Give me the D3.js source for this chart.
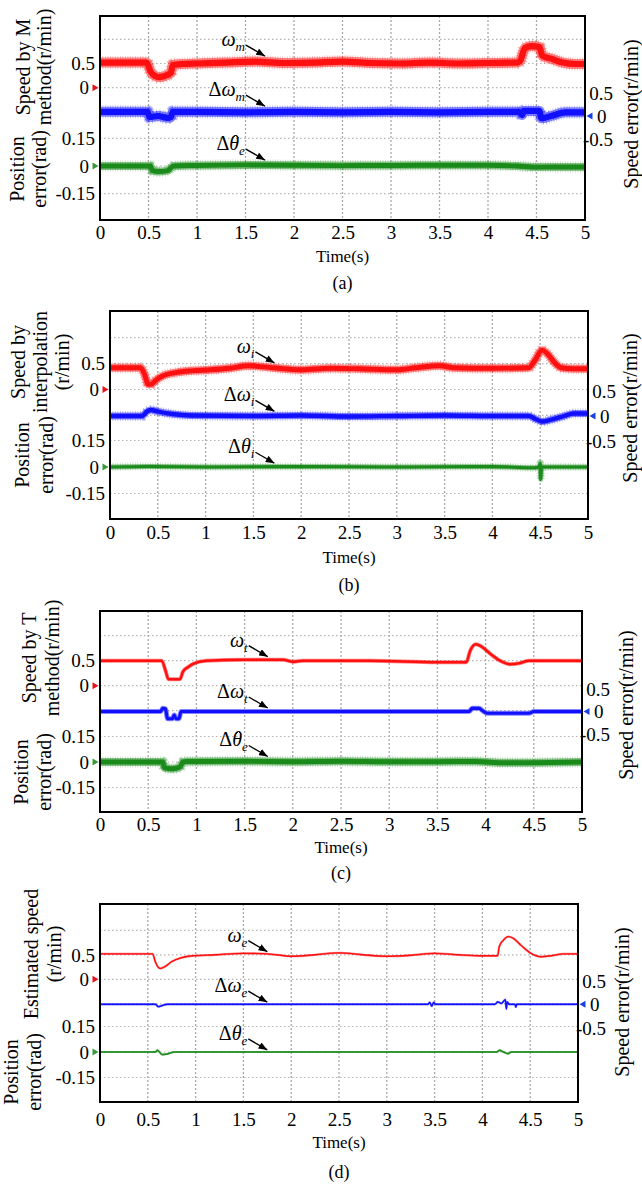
<!DOCTYPE html>
<html>
<head>
<meta charset="utf-8">
<script src="https://cdn.jsdelivr.net/npm/d3@7"></script>
<style>
  body { margin: 0; background: #fff; }
  svg { display: block; font-family: "Liberation Serif", "Times New Roman", serif; }
</style>
</head>
<body>
<svg id="fig" width="642" height="1188"></svg>
<script>
// ---- data: [time(s), value] ----
// (a) M method
var speedA = [[0,0.52],[0.48,0.52],[0.52,0.34],[0.56,0.25],[0.6,0.22],[0.65,0.23],[0.7,0.27],[0.73,0.3],[0.75,0.47],[0.85,0.49],[1.0,0.5],[1.3,0.52],[1.6,0.54],[1.9,0.51],[2.2,0.52],[2.5,0.54],[2.8,0.51],[3.1,0.5],[3.4,0.52],[3.7,0.5],[4.0,0.51],[4.3,0.52],[4.33,0.55],[4.38,0.82],[4.45,0.86],[4.53,0.84],[4.56,0.66],[4.65,0.6],[4.77,0.52],[4.9,0.49],[5,0.49]];
var errA = [[0,0.09],[0.49,0.09],[0.51,-0.02],[0.6,0],[0.7,-0.04],[0.73,-0.03],[0.75,0.09],[1.0,0.09],[1.5,0.08],[2.0,0.09],[2.5,0.08],[3.0,0.09],[3.5,0.08],[4.0,0.09],[4.32,0.09],[4.35,0.02],[4.37,0.11],[4.53,0.11],[4.55,-0.05],[4.65,0],[4.8,0.08],[5,0.08]];
var posA = [[0,0],[0.52,0],[0.54,-0.025],[0.6,-0.03],[0.7,-0.025],[0.73,-0.01],[0.76,0],[1.0,0.003],[1.5,0.006],[2.0,0.004],[2.5,0.002],[3.0,0.003],[3.5,0.004],[4.0,0.004],[4.3,0],[4.5,-0.006],[5,-0.005]];
// (b) interpolation
var speedB = [[0,0.42],[0.32,0.42],[0.36,0.3],[0.4,0.1],[0.43,0.1],[0.48,0.18],[0.55,0.26],[0.7,0.33],[0.85,0.36],[1.05,0.38],[1.25,0.41],[1.45,0.46],[1.7,0.42],[2.0,0.38],[2.3,0.41],[2.6,0.4],[3.0,0.38],[3.2,0.42],[3.45,0.46],[3.6,0.42],[4.0,0.41],[4.38,0.42],[4.44,0.55],[4.52,0.76],[4.58,0.68],[4.65,0.52],[4.72,0.42],[4.85,0.4],[5,0.4]];
var errB = [[0,0],[0.34,0],[0.38,0.08],[0.43,0.12],[0.5,0.09],[0.65,0.04],[0.85,0.01],[1.5,0],[2.0,0.01],[2.5,-0.01],[3.0,0],[3.5,0.01],[4.0,0],[4.38,0],[4.45,-0.06],[4.52,-0.11],[4.6,-0.08],[4.75,0],[4.85,0.05],[5,0.05]];
var posB = [[0,0],[0.4,0.003],[1.0,0],[2.0,0.002],[3.0,0],[4.0,0.002],[4.45,-0.004],[4.49,0],[4.5,0.02],[4.505,-0.07],[4.515,0],[5,0]];
// (c) T method
var speedC = [[0,0.5],[0.64,0.5],[0.68,0.3],[0.71,0.13],[0.83,0.13],[0.86,0.28],[0.92,0.38],[0.97,0.44],[1.1,0.5],[1.5,0.52],[1.9,0.52],[2.0,0.48],[2.1,0.5],[2.8,0.5],[3.5,0.47],[3.8,0.47],[3.84,0.7],[3.9,0.83],[3.96,0.78],[4.06,0.62],[4.15,0.5],[4.25,0.43],[4.35,0.45],[4.45,0.5],[5,0.5]];
var errC = [[0,0],[0.63,0],[0.65,0.07],[0.68,0.06],[0.7,-0.16],[0.75,-0.16],[0.77,-0.08],[0.79,-0.16],[0.82,-0.16],[0.84,0],[3.83,0],[3.86,0.07],[3.93,0.07],[3.98,0],[4.02,-0.04],[4.45,-0.04],[4.5,0],[5,0]];
var posC = [[0,0],[0.65,0],[0.67,-0.035],[0.75,-0.04],[0.83,-0.03],[0.86,0],[0.9,0.003],[1.5,0.004],[2.0,0.002],[2.5,0.005],[3.0,0.002],[3.5,0.002],[3.9,0.003],[4.2,-0.005],[4.5,-0.004],[5,0]];
// (d) estimated
var speedD = [[0,0.52],[0.55,0.52],[0.58,0.35],[0.63,0.22],[0.68,0.26],[0.75,0.36],[0.85,0.44],[0.97,0.48],[1.2,0.5],[1.5,0.53],[1.75,0.52],[2.0,0.47],[2.25,0.5],[2.5,0.54],[2.75,0.5],[3.0,0.47],[3.25,0.49],[3.5,0.53],[3.75,0.5],[4.0,0.48],[4.16,0.48],[4.175,0.66],[4.22,0.8],[4.27,0.87],[4.32,0.84],[4.4,0.7],[4.5,0.54],[4.61,0.46],[4.72,0.48],[4.85,0.52],[5,0.52]];
var errD = [[0,0],[0.58,0],[0.61,-0.05],[0.66,-0.02],[0.7,0],[3.43,0],[3.45,0.04],[3.47,-0.04],[3.49,0.04],[3.51,0],[4.13,0],[4.16,0.05],[4.2,0.02],[4.24,0.1],[4.25,-0.1],[4.26,0.05],[4.28,0],[4.34,0],[4.35,-0.06],[4.36,0],[5,0]];
var posD = [[0,0],[0.58,0],[0.6,0.01],[0.65,-0.015],[0.7,-0.012],[0.78,0],[4.15,0],[4.18,0.01],[4.22,0],[4.27,-0.01],[4.3,0],[5,0]];

var speedSeries = [speedA, speedB, speedC, speedD];
var errSeries = [errA, errB, errC, errD];
var posSeries = [posA, posB, posC, posD];

// ---- ticks and labels ----
var timeTicks = [0, 0.5, 1, 1.5, 2, 2.5, 3, 3.5, 4, 4.5, 5];
var speedTicks = [0.5, 0];
var posTicks = [0.15, 0, -0.15];
var errTicks = [0.5, 0, -0.5];
var speedGrid = [1, 0.5, 0, -0.5];
var posGrid = [0.15, 0, -0.15];

var speedTitles = [['Speed by M', 'method(r/min)'], ['Speed by', 'interpolation', '(r/min)'], ['Speed by T', 'method(r/min)'], ['Estimated speed', '(r/min)']];
var posTitle = ['Position', 'error(rad)'];
var errTitle = 'Speed error(r/min)';
var panelTags = ['(a)', '(b)', '(c)', '(d)'];
var traceSubs = [['m', 'm', 'e'], ['i', 'i', 'i'], ['t', 't', 'e'], ['e', 'e', 'e']];
var thetaHat = [true, false, true, false];

// ---- layout (pixels) ----
var panels = [
  {top:16, bottom:220, left:100, right:585, spd0:87.7, spdStep:24.2, err0:116, errStep:23, pos0:166, posStep:27.7,
   xTickY:239, timeY:262, tagY:289, spdTitleX:[30,51], spdTitleY:67, posTitleX:[24,46], posTitleY:169, errTitleX:638, errTitleY:114, widths:[10,10,8], noisy:[1,1,1], tipT:1.7},
  {top:311, bottom:519, left:110, right:588, spd0:389.5, spdStep:25.9, err0:416, errStep:25, pos0:467, posStep:26.5,
   xTickY:539, timeY:563, tagY:591, spdTitleX:[25,47,69], spdTitleY:362, posTitleX:[29,53], posTitleY:455, errTitleX:637, errTitleY:408, widths:[8,7,5], noisy:[1,1,1], tipT:1.72},
  {top:611, bottom:812, left:100, right:582, spd0:685.7, spdStep:25, err0:711.5, errStep:22.5, pos0:762, posStep:25.5,
   xTickY:831, timeY:853, tagY:879, spdTitleX:[36,59], spdTitleY:658, posTitleX:[28,51], posTitleY:772, errTitleX:633, errTitleY:705, widths:[4,5,8], noisy:[0,0,1], tipT:1.74},
  {top:904, bottom:1102, left:100, right:578, spd0:979.3, spdStep:24.5, err0:1004.3, errStep:23.5, pos0:1052, posStep:25.5,
   xTickY:1126, timeY:1148, tagY:1178, spdTitleX:[38,61], spdTitleY:954, posTitleX:[18,41], posTitleY:1072, errTitleX:629, errTitleY:1002, widths:[2.2,2.2,2.2], noisy:[0,0,0], tipT:1.75}
];

var colors = ['#ff1010', '#1010ff', '#1a8a1a'];
var markColors = ['#e8141a', '#1a40e0', '#3a9a3a'];
var serif = '"Liberation Serif", "Times New Roman", serif';

var svg = d3.select('#fig');

svg.append('defs').append('marker')
  .attr('id', 'head')
  .attr('viewBox', '0 0 10 8')
  .attr('refX', 10).attr('refY', 4)
  .attr('markerWidth', 9).attr('markerHeight', 7)
  .attr('markerUnits', 'userSpaceOnUse')
  .attr('orient', 'auto')
  .append('path').attr('d', 'M0,0L10,4L0,8Z').attr('fill', '#000');

panels.forEach(function(p, i) {
  var g = svg.append('g').attr('class', 'panel');

  var x = d3.scaleLinear().domain([0, 5]).range([p.left, p.right]);
  var ySpd = d3.scaleLinear().domain([0, 0.5]).range([p.spd0, p.spd0 - p.spdStep]);
  var yErr = d3.scaleLinear().domain([0, 0.5]).range([p.err0, p.err0 - p.errStep]);
  var yPos = d3.scaleLinear().domain([0, 0.15]).range([p.pos0, p.pos0 - p.posStep]);

  // dotted oscilloscope grid
  g.selectAll('.vgrid')
    .data(timeTicks.slice(1, -1))
    .enter().append('line')
    .attr('class', 'vgrid')
    .attr('x1', function(d) { return x(d); })
    .attr('x2', function(d) { return x(d); })
    .attr('y1', p.top).attr('y2', p.bottom)
    .attr('stroke', '#a8a8a8').attr('stroke-width', 1.3)
    .attr('stroke-dasharray', '2,2');

  var hLines = speedGrid.map(function(v) { return ySpd(v); })
    .concat(posGrid.map(function(v) { return yPos(v); }));
  g.selectAll('.hgrid')
    .data(hLines)
    .enter().append('line')
    .attr('class', 'hgrid')
    .attr('x1', p.left).attr('x2', p.right)
    .attr('y1', function(d) { return d; })
    .attr('y2', function(d) { return d; })
    .attr('stroke', '#b4b4b4').attr('stroke-width', 1.2)
    .attr('stroke-dasharray', '1.5,2.5');

  // traces: soft outer band, fine dashed fringe and solid core to mimic the scope noise
  var traces = [
    {data: speedSeries[i], y: ySpd},
    {data: errSeries[i], y: yErr},
    {data: posSeries[i], y: yPos}
  ];
  traces.forEach(function(s, k) {
    var line = d3.line()
      .x(function(d) { return x(d[0]); })
      .y(function(d) { return s.y(d[1]); })
      .curve(d3.curveMonotoneX);
    var w = p.widths[k];
    if (p.noisy[k]) {
      g.append('path').datum(s.data)
        .attr('d', line)
        .attr('fill', 'none')
        .attr('stroke', colors[k])
        .attr('stroke-opacity', 0.3)
        .attr('stroke-width', w + 3)
        .attr('stroke-dasharray', '0.8,1.7');
    }
    g.append('path').datum(s.data)
      .attr('d', line)
      .attr('fill', 'none')
      .attr('stroke', colors[k])
      .attr('stroke-opacity', 0.5)
      .attr('stroke-width', w)
      .attr('stroke-linejoin', 'round');
    g.append('path').datum(s.data)
      .attr('d', line)
      .attr('fill', 'none')
      .attr('stroke', colors[k])
      .attr('stroke-width', Math.max(1.3, w * 0.62))
      .attr('stroke-linejoin', 'round');
  });

  // frame
  g.append('rect')
    .attr('x', p.left).attr('y', p.top)
    .attr('width', p.right - p.left).attr('height', p.bottom - p.top)
    .attr('fill', 'none').attr('stroke', '#000').attr('stroke-width', 2);

  // zero markers
  var tri = function(cx, cy, dir) {
    return 'M' + cx + ',' + cy + 'L' + (cx - dir * 6) + ',' + (cy - 3.5) + 'L' + (cx - dir * 6) + ',' + (cy + 3.5) + 'Z';
  };
  g.append('path').attr('d', tri(p.left - 1.5, ySpd(0), 1)).attr('fill', markColors[0]);
  g.append('path').attr('d', tri(p.right + 1.5, yErr(0), -1)).attr('fill', markColors[1]);
  g.append('path').attr('d', tri(p.left - 1.5, yPos(0), 1)).attr('fill', markColors[2]);

  // axes
  var fmt = function(d) { return String(d); };
  var xAxis = g.append('g')
    .attr('transform', 'translate(0,' + p.bottom + ')')
    .call(d3.axisBottom(x).tickValues(timeTicks).tickSize(0).tickFormat(fmt));
  xAxis.select('.domain').remove();
  xAxis.selectAll('text')
    .attr('y', p.xTickY - p.bottom).attr('dy', null)
    .attr('font-size', 19).attr('font-family', serif).attr('fill', '#000');

  var leftAxis = function(scale, ticks) {
    var a = g.append('g')
      .attr('transform', 'translate(' + p.left + ',0)')
      .call(d3.axisLeft(scale).tickValues(ticks).tickSize(0).tickFormat(fmt));
    a.select('.domain').remove();
    a.selectAll('text')
      .attr('x', function(d) { return d === 0 ? -11 : -5; })
      .attr('dy', '0.33em')
      .attr('font-size', 19).attr('font-family', serif).attr('fill', '#000');
  };
  leftAxis(ySpd, speedTicks);
  leftAxis(yPos, posTicks);

  var rAxis = g.append('g')
    .attr('transform', 'translate(' + p.right + ',0)')
    .call(d3.axisRight(yErr).tickValues(errTicks).tickSize(0).tickFormat(fmt));
  rAxis.select('.domain').remove();
  rAxis.selectAll('text')
    .attr('x', function(d) { return d === 0 ? 12 : 28; })
    .attr('text-anchor', function(d) { return d === 0 ? 'start' : 'end'; })
    .attr('dy', '0.33em')
    .attr('font-size', 19).attr('font-family', serif).attr('fill', '#000');

  // titles
  speedTitles[i].forEach(function(t, j) {
    g.append('text')
      .attr('transform', 'translate(' + p.spdTitleX[j] + ',' + p.spdTitleY + ') rotate(-90)')
      .attr('text-anchor', 'middle').attr('font-size', 20).text(t);
  });
  posTitle.forEach(function(t, j) {
    g.append('text')
      .attr('transform', 'translate(' + p.posTitleX[j] + ',' + p.posTitleY + ') rotate(-90)')
      .attr('text-anchor', 'middle').attr('font-size', 20).text(t);
  });
  g.append('text')
    .attr('transform', 'translate(' + p.errTitleX + ',' + p.errTitleY + ') rotate(-90)')
    .attr('text-anchor', 'middle').attr('font-size', 20).text(errTitle);

  g.append('text')
    .attr('x', (p.left + p.right) / 2).attr('y', p.timeY)
    .attr('text-anchor', 'middle').attr('font-size', 17).text('Time(s)');
  g.append('text')
    .attr('x', (p.left + p.right) / 2).attr('y', p.tagY)
    .attr('text-anchor', 'middle').attr('font-size', 18).text(panelTags[i]);

  // arrow annotations
  traces.forEach(function(s, k) {
    var interp = d3.scaleLinear()
      .domain(s.data.map(function(d) { return d[0]; }))
      .range(s.data.map(function(d) { return d[1]; }));
    var tipX = x(p.tipT);
    var tipY = s.y(interp(p.tipT)) - p.widths[k] / 2 - 1;
    var tailX = tipX - 19, tailY = tipY - 11;
    g.append('line')
      .attr('x1', tailX).attr('y1', tailY).attr('x2', tipX).attr('y2', tipY)
      .attr('stroke', '#000').attr('stroke-width', 1.4)
      .attr('marker-end', 'url(#head)');

    var lbl = g.append('text')
      .attr('x', tailX - 1).attr('y', tailY + 1)
      .attr('text-anchor', 'end').attr('font-size', 20);
    if (k > 0) lbl.append('tspan').text('\u0394');
    lbl.append('tspan').attr('font-style', 'italic').text(k === 2 ? '\u03b8' : '\u03c9');
    lbl.append('tspan').attr('font-style', 'italic').attr('font-size', 13).attr('dy', 5).text(traceSubs[i][k]);

    // circumflex over the estimated angle, drawn as a small chevron
    if (k === 2 && thetaHat[i]) {
      var node = lbl.node();
      var start = node.getStartPositionOfChar(1);
      var cx = start.x + node.getSubStringLength(1, 1) / 2 + 1.5;
      var hy = tailY - 14;
      g.append('path')
        .attr('d', 'M' + (cx - 3) + ',' + (hy + 3) + 'L' + cx + ',' + hy + 'L' + (cx + 3) + ',' + (hy + 3))
        .attr('fill', 'none').attr('stroke', '#000').attr('stroke-width', 1);
    }
  });
});
</script>
</body>
</html>
